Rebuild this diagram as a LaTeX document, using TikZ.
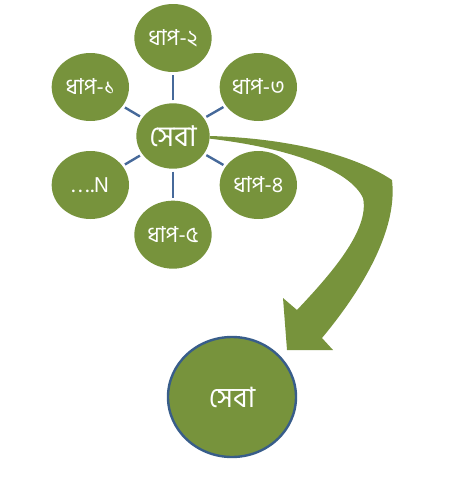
\documentclass[tikz,border=0pt]{standalone}
\usepackage{fontspec}
\newfontfamily\bnfont[Script=Bengali]{Hind Siliguri}
\usepackage{tikz}
\usetikzlibrary{positioning,shapes.geometric}
\definecolor{olive}{HTML}{77933C}
\definecolor{linkblue}{HTML}{46699A}
\definecolor{rimblue}{HTML}{385D8A}
\pgfdeclarelayer{bg}
\pgfsetlayers{bg,main}

\begin{document}
\begin{tikzpicture}[
x=0.75pt, y=-0.75pt,
on grid,
step_node/.style={ellipse, fill=olive, text=white, minimum width=58pt, minimum height=51pt, inner sep=0pt, font=\bnfont\fontsize{16.5}{18}\selectfont},
hub/.style={ellipse, fill=olive, text=white, minimum width=55pt, minimum height=49pt, inner sep=0pt, font=\bnfont\fontsize{21.5}{24}\selectfont},
result/.style={ellipse, fill=olive, draw=rimblue, line width=1.8pt, text=white, minimum width=96pt, minimum height=90pt, inner sep=0pt, font=\bnfont\fontsize{21}{24}\selectfont},
link/.style={draw=linkblue, line width=1.8pt, shorten >=2pt, shorten <=2pt}
]
\useasboundingbox (0,0) rectangle (464,482);

\node[hub] (seba) at (173,136) {সেবা};
\node[step_node] (step2) [above=73.5pt of seba] {ধাপ-২};
\node[step_node] (step5) [below=74pt of seba] {ধাপ-৫};
\node[step_node] (step1) [above left=36.75pt and 62pt of seba] {ধাপ-১};
\node[step_node] (step3) [above right=36.75pt and 64pt of seba] {ধাপ-৩};
\node[step_node] (stepN) [below left=36.75pt and 62pt of seba] {.\kern2.5pt.\kern2.5pt.\kern1pt.N};
\node[step_node] (step4) [below right=36.75pt and 64pt of seba] {ধাপ-৪};

\node[result] (seba2) [below right=195.75pt and 44.25pt of seba] {সেবা};

%Connections
\draw[link] (seba) -- (step1);
\draw[link] (seba) -- (step2);
\draw[link] (seba) -- (step3);
\draw[link] (seba) -- (step4);
\draw[link] (seba) -- (step5);
\draw[link] (seba) -- (stepN);

%Curved arrow
\begin{pgfonlayer}{bg}
\fill[olive] (seba.east) .. controls (280,138) and (350,152) .. (392,180)
  .. controls (398,230) and (362,290) .. (322,338)
  -- (333,350) -- (287,350) -- (283,298) -- (297,310)
  .. controls (330,275) and (370,230) .. (363,198)
  .. controls (350,170) and (290,148) .. ([yshift=-2pt]seba.east) -- cycle;
\end{pgfonlayer}
\end{tikzpicture}
\end{document}
